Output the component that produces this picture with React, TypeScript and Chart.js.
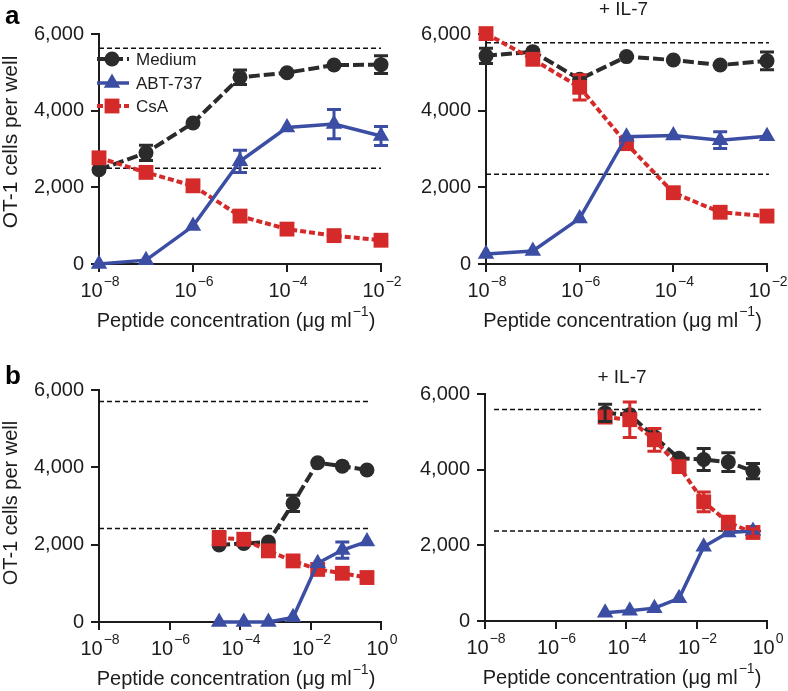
import React, { useEffect, useRef } from 'react';
import { Chart, registerables } from 'chart.js';

Chart.register(...registerables);

const FONT = '"Liberation Sans", Arial, Helvetica, sans-serif';
const INK = '#1c1c1c';
const BLACK = '#2b2b2b';
const BLUE = '#3b4ea3';
const RED = '#d42a2a';

// ---------- data ----------
const seriesNames = ['Medium', 'ABT-737', 'CsA'];
const yTicks = [0, 2000, 4000, 6000];
const xExpA = [-8, -6, -4, -2];
const xExpB = [-8, -6, -4, -2, 0];
const doseA = [1e-8, 1e-7, 1e-6, 1e-5, 1e-4, 1e-3, 1e-2];
const doseB = [2.56e-5, 1.28e-4, 6.4e-4, 3.2e-3, 1.6e-2, 8e-2, 0.4];

// panel a, left
const aMedium = [2460, 2900, 3680, 4870, 4990, 5190, 5200];
const aMediumErr = [0, 200, 0, 190, 0, 0, 230];
const aAbt = [0, 100, 990, 2680, 3560, 3650, 3340];
const aAbtErr = [0, 0, 0, 290, 0, 380, 250];
const aCsa = [2770, 2390, 2040, 1250, 910, 740, 620];
const aCsaErr = [0, 0, 0, 0, 0, 0, 0];
const aRef = [5630, 2500];
const aRefRange = [1e-8, 1e-2];

// panel a, right (+ IL-7)
const aiMedium = [5430, 5540, 4820, 5410, 5320, 5190, 5300];
const aiMediumErr = [200, 0, 0, 0, 0, 0, 230];
const aiAbt = [260, 340, 1190, 3320, 3350, 3230, 3330];
const aiAbtErr = [0, 0, 0, 0, 0, 220, 0];
const aiCsa = [6010, 5340, 4610, 3140, 1860, 1350, 1250];
const aiCsaErr = [0, 0, 330, 0, 0, 0, 0];
const aiRef = [5770, 2340];
const aiRefRange = [1e-8, 1.1e-2];

// panel b, left
const bMedium = [1990, 2030, 2070, 3070, 4120, 4030, 3930];
const bMediumErr = [0, 0, 0, 210, 0, 0, 0];
const bAbt = [0, 0, 0, 120, 1520, 1860, 2080];
const bAbtErr = [0, 0, 0, 0, 0, 210, 0];
const bCsa = [2170, 2140, 1840, 1580, 1360, 1260, 1150];
const bCsaErr = [170, 0, 0, 0, 0, 0, 0];
const bRef = [5700, 2420];
const bRefRange = [1e-8, 0.43];

// panel b, right (+ IL-7)
const biMedium = [5500, 5450, 4870, 4300, 4270, 4200, 3960];
const biMediumErr = [230, 0, 0, 0, 290, 250, 200];
const biAbt = [220, 270, 340, 600, 1960, 2340, 2380];
const biAbtErr = [0, 0, 0, 0, 0, 0, 0];
const biCsa = [5390, 5320, 4790, 4080, 3150, 2600, 2340];
const biCsaErr = [0, 470, 300, 0, 260, 170, 100];
const biRef = [5590, 2380];
const biRefRange = [1.8e-8, 0.68];

// ---------- styles ----------
const seriesStyle = [
  { color: BLACK, dash: [11, 4], width: 4, point: 'circle', radius: 7.5 },
  { color: BLUE, dash: [], width: 3.5, point: 'triangle', radius: 9.5 },
  { color: RED, dash: [6, 3], width: 4, point: 'rect', radius: 10.5 },
];

type Panel = {
  left: number; top: number; w: number; h: number;
  area: { l: number; r: number; t: number; b: number };
  doses: number[]; xMax: number; xExps: number[];
  series: number[][]; errors: number[][];
  ref: number[]; refRange: number[];
  letter?: { text: string; x: number; y: number };
  subtitle?: { dx: number; y: number };
  yTitle?: { x: number; y: number; size: number };
  legend?: boolean;
};

const panels: Panel[] = [
  {
    left: 0, top: 0, w: 412, h: 345, area: { l: 99, r: 381, t: 34, b: 264 },
    doses: doseA, xMax: 1e-2, xExps: xExpA,
    series: [aMedium, aAbt, aCsa], errors: [aMediumErr, aAbtErr, aCsaErr],
    ref: aRef, refRange: aRefRange,
    letter: { text: 'a', x: 5, y: 17 }, yTitle: { x: 11, y: 142, size: 21 }, legend: true,
  },
  {
    left: 394, top: 0, w: 394, h: 345, area: { l: 92, r: 373, t: 34, b: 264 },
    doses: doseA, xMax: 1e-2, xExps: xExpA,
    series: [aiMedium, aiAbt, aiCsa], errors: [aiMediumErr, aiAbtErr, aiCsaErr],
    ref: aiRef, refRange: aiRefRange,
    subtitle: { dx: -3, y: 10 },
  },
  {
    left: 0, top: 345, w: 412, h: 346, area: { l: 99, r: 381, t: 45, b: 277 },
    doses: doseB, xMax: 1, xExps: xExpB,
    series: [bMedium, bAbt, bCsa], errors: [bMediumErr, bAbtErr, bCsaErr],
    ref: bRef, refRange: bRefRange,
    letter: { text: 'b', x: 5, y: 32 }, yTitle: { x: 11, y: 158, size: 20 },
  },
  {
    left: 394, top: 345, w: 394, h: 346, area: { l: 91, r: 373, t: 49, b: 276 },
    doses: doseB, xMax: 1, xExps: xExpB,
    series: [biMedium, biAbt, biCsa], errors: [biMediumErr, biAbtErr, biCsaErr],
    ref: biRef, refRange: biRefRange,
    subtitle: { dx: -4, y: 33 },
  },
];

function drawMarker(ctx: CanvasRenderingContext2D, kind: string, x: number, y: number, r: number, color: string) {
  ctx.save();
  ctx.fillStyle = color;
  ctx.setLineDash([]);
  ctx.beginPath();
  if (kind === 'circle') {
    ctx.arc(x, y, r, 0, Math.PI * 2);
  } else if (kind === 'rect') {
    const s = Math.SQRT1_2 * r;
    ctx.rect(x - s, y - s, 2 * s, 2 * s);
  } else {
    const cos = Math.cos(Math.PI / 6) * r;
    ctx.moveTo(x, y - r);
    ctx.lineTo(x + cos, y + r / 2);
    ctx.lineTo(x - cos, y + r / 2);
    ctx.closePath();
  }
  ctx.fill();
  ctx.restore();
}

type Part = { text: string; sup?: boolean };
function drawParts(ctx: CanvasRenderingContext2D, parts: Part[], cx: number, cy: number, size: number, supSize: number) {
  const widths = parts.map((p) => {
    ctx.font = `${p.sup ? supSize : size}px ${FONT}`;
    return ctx.measureText(p.text).width + (p.sup ? 1 : 0);
  });
  const total = widths.reduce((a, b) => a + b, 0);
  let x = cx - total / 2;
  ctx.textAlign = 'left';
  ctx.textBaseline = 'middle';
  ctx.fillStyle = INK;
  parts.forEach((p, i) => {
    ctx.font = `${p.sup ? supSize : size}px ${FONT}`;
    ctx.fillText(p.text, x + (p.sup ? 1 : 0), p.sup ? cy - size * 0.42 : cy);
    x += widths[i];
  });
}

const errorBars = {
  id: 'errorBars',
  afterDatasetsDraw(chart: any) {
    const ctx = chart.ctx;
    const ys = chart.scales.y;
    chart.data.datasets.forEach((ds: any, i: number) => {
      if (!ds.errors) return;
      const meta = chart.getDatasetMeta(i);
      ctx.save();
      ctx.strokeStyle = ds.borderColor;
      ctx.lineWidth = 3;
      ctx.setLineDash([]);
      meta.data.forEach((pt: any, j: number) => {
        const e = ds.errors[j];
        if (!e) return;
        const v = ds.data[j].y;
        const y1 = ys.getPixelForValue(v + e);
        const y2 = ys.getPixelForValue(v - e);
        const c = 7;
        ctx.beginPath();
        ctx.moveTo(pt.x, y1); ctx.lineTo(pt.x, y2);
        ctx.moveTo(pt.x - c, y1); ctx.lineTo(pt.x + c, y1);
        ctx.moveTo(pt.x - c, y2); ctx.lineTo(pt.x + c, y2);
        ctx.stroke();
      });
      ctx.restore();
    });
  },
};

function makeDecor(p: Panel) {
  return {
    id: 'decor',
    afterDraw(chart: any) {
      const ctx: CanvasRenderingContext2D = chart.ctx;
      const xs = chart.scales.x;
      const area = chart.chartArea;
      ctx.save();
      // x tick labels
      p.xExps.forEach((e) => {
        const x = xs.getPixelForValue(Math.pow(10, e));
        const sup = e === 0 ? '0' : '\u2212' + Math.abs(e);
        drawParts(ctx, [{ text: '10' }, { text: sup, sup: true }], x + 1, area.bottom + 27, 20, 14);
      });
      // x title
      drawParts(
        ctx,
        [{ text: 'Peptide concentration (\u03bcg ml' }, { text: '\u22121', sup: true }, { text: ')' }],
        (area.left + area.right) / 2 - 4,
        area.bottom + 57,
        20,
        14,
      );
      // y title
      if (p.yTitle) {
        ctx.save();
        ctx.translate(p.yTitle.x, p.yTitle.y);
        ctx.rotate(-Math.PI / 2);
        ctx.font = `${p.yTitle.size}px ${FONT}`;
        ctx.fillStyle = INK;
        ctx.textAlign = 'center';
        ctx.textBaseline = 'middle';
        ctx.fillText('OT-1 cells per well', 0, 0);
        ctx.restore();
      }
      if (p.subtitle) {
        ctx.font = `19px ${FONT}`;
        ctx.fillStyle = INK;
        ctx.textAlign = 'center';
        ctx.textBaseline = 'middle';
        ctx.fillText('+ IL-7', (area.left + area.right) / 2 + p.subtitle.dx, p.subtitle.y);
      }
      if (p.letter) {
        ctx.font = `bold 26px ${FONT}`;
        ctx.fillStyle = '#000';
        ctx.textAlign = 'left';
        ctx.textBaseline = 'middle';
        ctx.fillText(p.letter.text, p.letter.x, p.letter.y);
      }
      if (p.legend) {
        const rows = [59, 83, 106];
        seriesNames.forEach((name, i) => {
          const s = seriesStyle[i];
          const y = rows[i];
          ctx.save();
          ctx.strokeStyle = s.color;
          ctx.lineWidth = s.width;
          ctx.setLineDash(s.dash);
          ctx.beginPath();
          ctx.moveTo(97, y);
          ctx.lineTo(129, y);
          ctx.stroke();
          ctx.restore();
          drawMarker(ctx, s.point, 112, y, s.radius, s.color);
          ctx.font = `17px ${FONT}`;
          ctx.fillStyle = INK;
          ctx.textAlign = 'left';
          ctx.textBaseline = 'middle';
          ctx.fillText(name, 136, y + 1);
        });
      }
      ctx.restore();
    },
  };
}

function buildConfig(p: Panel): any {
  const datasets: any[] = [];
  // index 0 drawn on top: blue, red, black, then reference lines
  [1, 2, 0].forEach((k) => {
    const s = seriesStyle[k];
    datasets.push({
      label: seriesNames[k],
      data: p.doses.map((x, i) => ({ x, y: p.series[k][i] })),
      errors: p.errors[k],
      borderColor: s.color,
      backgroundColor: s.color,
      borderWidth: s.width,
      borderDash: s.dash,
      pointStyle: s.point,
      pointRadius: s.radius,
      pointBorderWidth: 0,
      pointBackgroundColor: s.color,
      tension: 0,
      clip: false,
    });
  });
  p.ref.forEach((lvl) => {
    datasets.push({
      label: 'ref',
      data: [{ x: p.refRange[0], y: lvl }, { x: p.refRange[1], y: lvl }],
      borderColor: '#111',
      borderWidth: 1.5,
      borderDash: [5, 3],
      pointRadius: 0,
      clip: false,
    });
  });
  const axisCommon = {
    grid: { drawOnChartArea: false, drawTicks: true, tickLength: 8, color: INK, lineWidth: 2 },
    border: { display: true, color: INK, width: 2 },
  };
  return {
    type: 'line',
    data: { datasets },
    options: {
      responsive: false,
      animation: false,
      events: [],
      layout: { padding: { left: 0, top: p.area.t, right: p.w - p.area.r, bottom: 0 } },
      plugins: { legend: { display: false }, tooltip: { enabled: false } },
      scales: {
        x: {
          type: 'logarithmic',
          min: 1e-8,
          max: p.xMax,
          ...axisCommon,
          ticks: { display: false },
          afterBuildTicks: (s: any) => { s.ticks = p.xExps.map((e) => ({ value: Math.pow(10, e) })); },
          afterFit: (s: any) => { s.height = p.h - p.area.b; },
        },
        y: {
          type: 'linear',
          min: 0,
          max: 6000,
          ...axisCommon,
          ticks: {
            color: INK,
            font: { family: FONT, size: 20 },
            padding: 7,
            callback: (v: any) => Number(v).toLocaleString('en-US'),
          },
          afterBuildTicks: (s: any) => { s.ticks = yTicks.map((v) => ({ value: v })); },
          afterFit: (s: any) => { s.width = p.area.l; },
        },
      },
    },
    plugins: [errorBars, makeDecor(p)],
  };
}

function PanelChart({ p }: { p: Panel }) {
  const ref = useRef<HTMLCanvasElement>(null);
  useEffect(() => {
    if (!ref.current) return;
    const chart = new Chart(ref.current, buildConfig(p));
    return () => chart.destroy();
  }, [p]);
  return (
    <canvas
      ref={ref}
      width={p.w}
      height={p.h}
      style={{ position: 'absolute', left: p.left, top: p.top, width: p.w, height: p.h }}
    />
  );
}

export default function App() {
  return (
    <div style={{ position: 'absolute', left: 0, top: 0, width: 788, height: 691, background: '#fff' }}>
      {panels.map((p, i) => (
        <PanelChart key={i} p={p} />
      ))}
    </div>
  );
}
